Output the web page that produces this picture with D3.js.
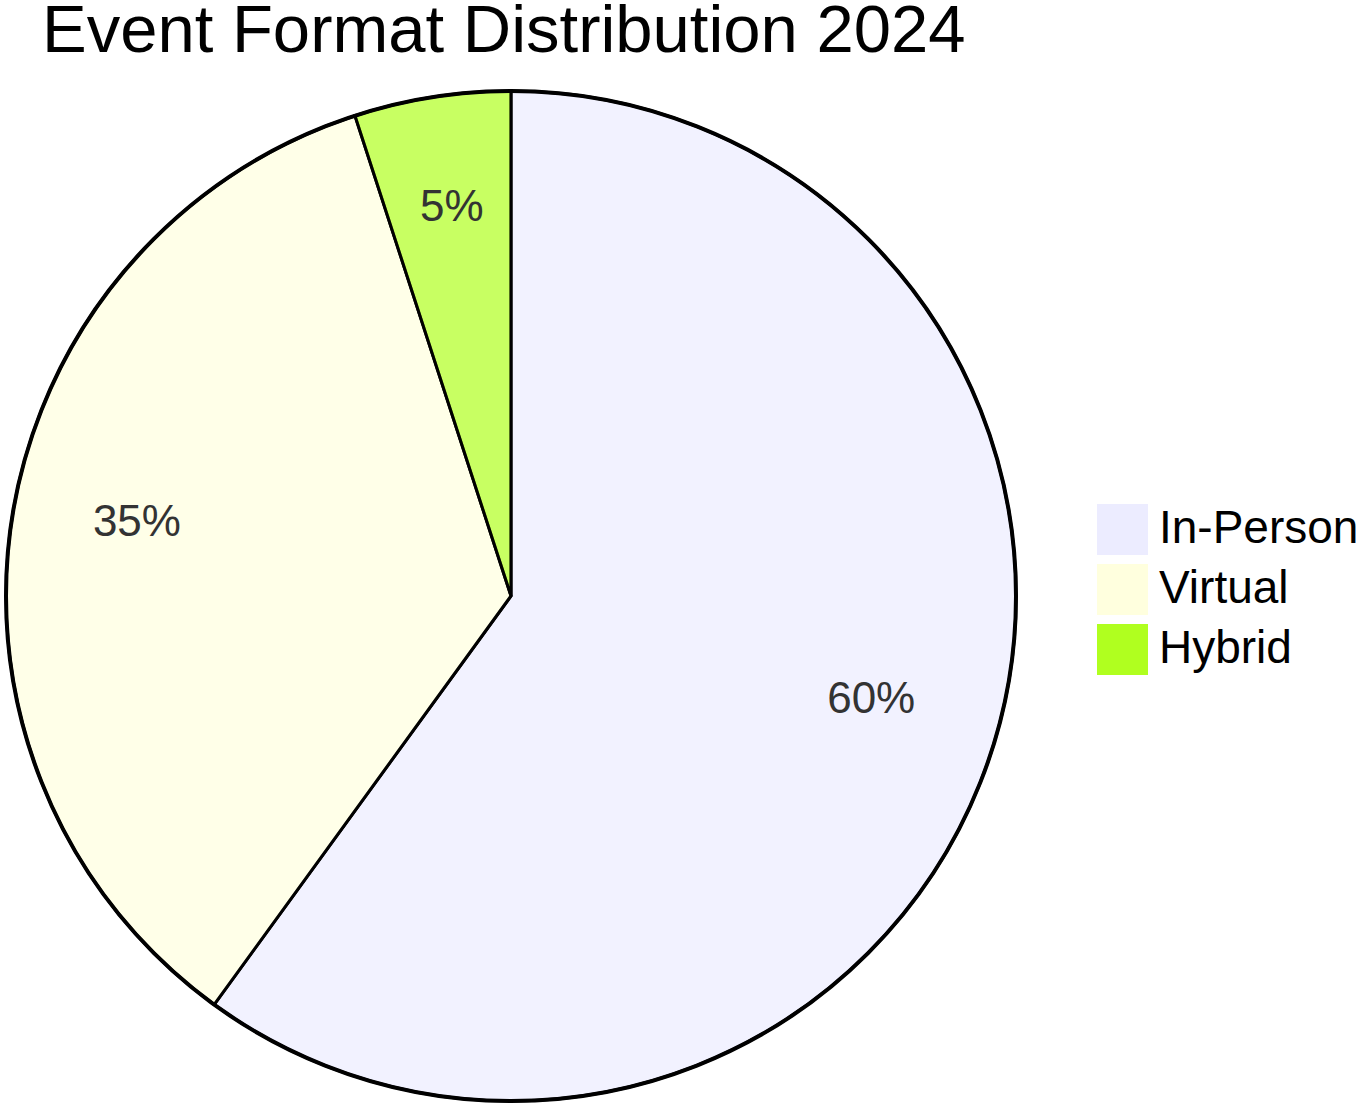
<!DOCTYPE html>
<html><head><meta charset="utf-8">
<script src="https://cdn.jsdelivr.net/npm/d3@7"></script>
<style>body{margin:0;background:#fff}</style></head>
<body><svg id="c" width="1357" height="1105"></svg>
<script>
const categories = ["In-Person", "Virtual", "Hybrid"];
const values = [60, 35, 5];
const colors = ["#ECECFF", "#ffffde", "#b0ff1f"];
const title = "Event Format Distribution 2024";

const svg = d3.select("#c");
const font = "Liberation Sans, Arial, sans-serif";
svg.append("text").attr("x", 42).attr("y", 52).attr("font-family", font)
  .attr("font-size", 67).attr("fill", "#000").text(title);

const cx = 511, cy = 596, r = 505;
const g = svg.append("g").attr("transform", `translate(${cx},${cy})`);
const data = categories.map((c, i) => ({c, v: values[i], col: colors[i]}));
const pie = d3.pie().value(d => d.v).sort(null);
const arc = d3.arc().innerRadius(0).outerRadius(r);
const labelArc = d3.arc().innerRadius(r * 0.75).outerRadius(r * 0.75);
const total = d3.sum(values);
const arcs = pie(data);
g.selectAll("path.s").data(arcs).join("path").attr("d", arc)
  .attr("fill", d => d.data.col).attr("fill-opacity", 0.7)
  .attr("stroke", "#000").attr("stroke-width", 3);
g.append("circle").attr("r", r).attr("fill", "none").attr("stroke", "#000").attr("stroke-width", 4);
g.selectAll("text.l").data(arcs).join("text")
  .attr("transform", d => { const p = labelArc.centroid(d); return `translate(${p[0]},${p[1] - 16})`; })
  .attr("text-anchor", "middle").attr("dominant-baseline", "central")
  .attr("font-family", font).attr("font-size", 44).attr("fill", "#333")
  .text(d => Math.round(d.data.v / total * 100) + "%");

const lg = svg.append("g").attr("transform", "translate(1097,504)");
data.forEach((d, i) => {
  lg.append("rect").attr("x", 0).attr("y", i * 60).attr("width", 51).attr("height", 51).attr("fill", d.col);
  lg.append("text").attr("x", 62).attr("y", i * 60 + 23).attr("dominant-baseline", "central")
    .attr("font-family", font).attr("font-size", 46).attr("fill", "#000").text(d.c);
});
</script></body></html>
